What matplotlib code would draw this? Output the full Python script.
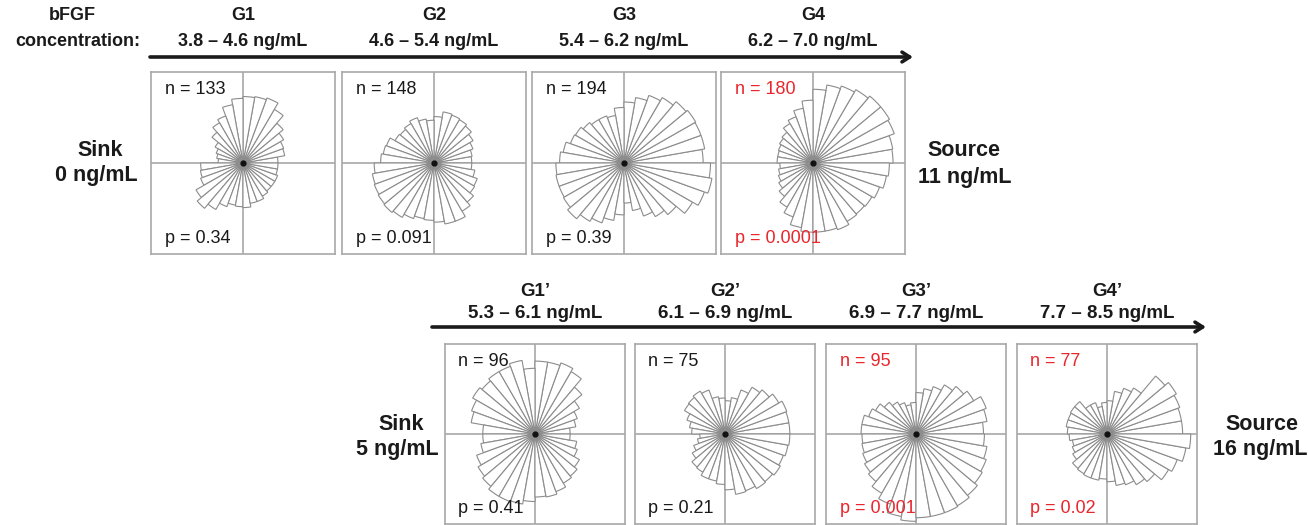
import numpy as np
import matplotlib
matplotlib.use("Agg")
import matplotlib.pyplot as plt
from matplotlib.patches import Wedge

plt.rcParams['font.family'] = ['Liberation Sans', 'DejaVu Sans']

# ---------------- data ----------------
# 36 bins of 10 degrees, counter-clockwise from the source direction (east);
# bar lengths in percent of the half-width of each panel
top_groups = ["G1", "G2", "G3", "G4"]
top_ranges = ["3.8 \u2013 4.6 ng/mL", "4.6 \u2013 5.4 ng/mL", "5.4 \u2013 6.2 ng/mL", "6.2 \u2013 7.0 ng/mL"]
top_n = [133, 148, 194, 180]
top_p = ["0.34", "0.091", "0.39", "0.0001"]
top_sig = [False, False, False, True]

bot_groups = ["G1\u2019", "G2\u2019", "G3\u2019", "G4\u2019"]
bot_ranges = ["5.3 \u2013 6.1 ng/mL", "6.1 \u2013 6.9 ng/mL", "6.9 \u2013 7.7 ng/mL", "7.7 \u2013 8.5 ng/mL"]
bot_n = [96, 75, 95, 77]
bot_p = ["0.41", "0.21", "0.001", "0.02"]
bot_sig = [False, False, True, True]

rose_G1 = [38, 46, 47, 51, 57, 68, 76, 74, 73, 71, 65, 55, 51, 44, 35, 31, 29, 27,
           46, 47, 49, 59, 65, 59, 51, 47, 48, 49, 45, 45, 42, 40, 40, 40, 38, 38]
rose_G2 = [41, 42, 45, 49, 53, 55, 56, 57, 51, 47, 49, 53, 50, 48, 49, 55, 56, 58,
           65, 68, 69, 70, 71, 69, 65, 62, 63, 65, 68, 68, 61, 56, 51, 50, 45, 41]
rose_G3 = [86, 89, 89, 90, 88, 83, 79, 73, 67, 61, 53, 55, 55, 58, 61, 62, 67, 70,
           74, 75, 75, 76, 80, 74, 70, 64, 57, 44, 53, 62, 68, 74, 86, 93, 97, 94]
rose_G4 = [87, 88, 94, 96, 96, 93, 90, 87, 81, 69, 61, 54, 50, 44, 42, 40, 39, 39,
           36, 38, 40, 43, 48, 56, 63, 72, 76, 76, 76, 78, 74, 73, 74, 77, 81, 83]
rose_G1b = [39, 46, 50, 57, 68, 80, 84, 81, 81, 73, 83, 80, 80, 77, 80, 75, 72, 58,
            58, 61, 69, 73, 76, 80, 80, 79, 75, 70, 71, 68, 63, 61, 57, 50, 47, 39]
rose_G2b = [72, 72, 73, 69, 64, 60, 52, 41, 37, 40, 42, 52, 55, 53, 52, 45, 40, 37,
            28, 31, 37, 42, 48, 49, 53, 53, 56, 62, 68, 67, 70, 69, 71, 69, 71, 72]
rose_G3b = [75, 80, 83, 74, 69, 63, 56, 51, 46, 35, 33, 37, 41, 46, 52, 56, 61, 61,
            60, 61, 63, 66, 69, 76, 83, 93, 97, 93, 93, 93, 92, 89, 85, 83, 80, 76]
rose_G4b = [84, 84, 86, 89, 84, 59, 54, 48, 37, 35, 31, 37, 37, 47, 47, 46, 46, 44,
            42, 39, 41, 44, 50, 51, 52, 52, 50, 53, 58, 60, 65, 69, 79, 83, 89, 93]

top_roses = [rose_G1, rose_G2, rose_G3, rose_G4]
bot_roses = [rose_G1b, rose_G2b, rose_G3b, rose_G4b]
bin_width = 10

# ---------------- layout ----------------
W, H = 1308, 525
fig = plt.figure(figsize=(W / 100, H / 100), dpi=100)

RED = "#e8262c"
BLACK = "#1a1a1a"
BOXC = "#a8a8a8"
BARC = "#8c8c8c"


def px_axes(x, y, w, h):
    return fig.add_axes([x / W, 1 - (y + h) / H, w / W, h / H])


def rose(ax, vals, n, p, sig):
    ax.set_xlim(-1, 1)
    ax.set_ylim(-1, 1)
    ax.set_xticks([])
    ax.set_yticks([])
    for s in ax.spines.values():
        s.set_color(BOXC)
        s.set_linewidth(1.2)
    ax.axhline(0, color=BOXC, lw=1.2, zorder=1)
    ax.axvline(0, color=BOXC, lw=1.2, zorder=1)
    for i, v in enumerate(vals):
        w = Wedge((0, 0), v / 100.0, i * bin_width, (i + 1) * bin_width,
                  facecolor="white", edgecolor=BARC, lw=0.8, zorder=2)
        ax.add_patch(w)
    ax.plot(0, 0, 'o', color="#111111", ms=3.5, zorder=3)
    c = RED if sig else BLACK
    ax.text(0.075, 0.905, f"n = {n}", transform=ax.transAxes, fontsize=13,
            color=c, ha="left", va="center", zorder=4)
    ax.text(0.075, 0.085, f"p = {p}", transform=ax.transAxes, fontsize=13,
            color=c, ha="left", va="center", zorder=4)


top_lefts = [151, 342, 532, 721]
for x, vals, n, p, sig in zip(top_lefts, top_roses, top_n, top_p, top_sig):
    ax = px_axes(x, 72, 184, 182)
    rose(ax, vals, n, p, sig)

bot_lefts = [445, 635, 826, 1017]
for x, vals, n, p, sig in zip(bot_lefts, bot_roses, bot_n, bot_p, bot_sig):
    ax = px_axes(x, 344, 180, 180)
    rose(ax, vals, n, p, sig)

# overlay for texts and arrows
ov = fig.add_axes([0, 0, 1, 1], zorder=10)
ov.set_xlim(0, W)
ov.set_ylim(H, 0)
ov.axis("off")
ov.patch.set_alpha(0)

bold = dict(fontweight="bold", color=BLACK, ha="center", va="center")
ov.text(72, 16, "bFGF", fontsize=13, **bold)
ov.text(78, 42, "concentration:", fontsize=13, **bold)

for x, g, r in zip(top_lefts, top_groups, top_ranges):
    cx = x + 92
    ov.text(cx, 15, g, fontsize=13, **bold)
    ov.text(cx, 42, r, fontsize=13, **bold)

narrow = ['Liberation Sans Narrow', 'Liberation Sans', 'DejaVu Sans']
for x, g, r in zip(bot_lefts, bot_groups, bot_ranges):
    cx = x + 90
    ov.text(cx, 291, g, fontsize=13.5, family=narrow, **bold)
    ov.text(cx, 313, r, fontsize=13.5, family=narrow, **bold)

arrow_kw = dict(arrowstyle="->,head_length=0.55,head_width=0.35", color=BLACK, lw=2.6,
                shrinkA=0, shrinkB=0)
ov.annotate("", xy=(913, 57), xytext=(150, 57), arrowprops=arrow_kw)
ov.annotate("", xy=(1206, 327), xytext=(432, 327), arrowprops=arrow_kw)

ov.text(100, 151, "Sink", fontsize=15.5, **bold)
ov.text(96, 176, "0 ng/mL", fontsize=15.5, **bold)
ov.text(964, 151, "Source", fontsize=15.5, **bold)
ov.text(965, 177, "11 ng/mL", fontsize=15.5, **bold)
ov.text(401, 424, "Sink", fontsize=15.5, **bold)
ov.text(397, 449, "5 ng/mL", fontsize=15.5, **bold)
ov.text(1262, 424, "Source", fontsize=15.5, **bold)
ov.text(1260, 450, "16 ng/mL", fontsize=15.5, **bold)

fig.savefig("out.png", dpi=100)
